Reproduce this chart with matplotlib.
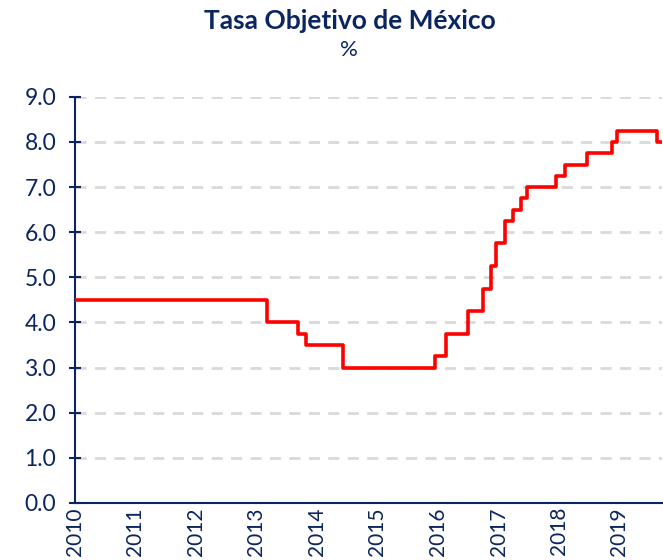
import matplotlib
matplotlib.use("Agg")
import matplotlib.pyplot as plt
import matplotlib.dates as mdates
import pandas as pd

# Banxico target rate, step changes
fechas = ["2010-01-01", "2013-03-08", "2013-09-06", "2013-10-25", "2014-06-06",
          "2015-12-17", "2016-02-17", "2016-06-30", "2016-09-29", "2016-11-17",
          "2016-12-15", "2017-02-09", "2017-03-30", "2017-05-18", "2017-06-22",
          "2017-12-14", "2018-02-08", "2018-06-21", "2018-11-15", "2018-12-20",
          "2019-08-15", "2019-09-15"]
tasa = [4.5, 4.0, 3.75, 3.5, 3.0,
        3.25, 3.75, 4.25, 4.75, 5.25,
        5.75, 6.25, 6.5, 6.75, 7.0,
        7.25, 7.5, 7.75, 8.0, 8.25,
        8.0, 8.0]
anios = list(range(2010, 2020))
y_ticks = [0, 1, 2, 3, 4, 5, 6, 7, 8, 9]

navy = "#0b2560"
plt.rcParams["font.family"] = ["Lato", "DejaVu Sans"]

fig = plt.figure(figsize=(6.63, 5.6), dpi=100)
ax = fig.add_axes([0.113, 0.102, 0.885, 0.725])

x = pd.to_datetime(fechas)
ax.plot(x, tasa, drawstyle="steps-post", color="#ff0000", linewidth=2.6, zorder=3)

ax.set_ylim(0, 9)
ax.set_xlim(pd.Timestamp("2010-01-01"), pd.Timestamp("2019-09-13"))
ax.set_yticks(y_ticks)
ax.set_yticklabels(["%.1f" % v for v in y_ticks])
ax.set_xticks([pd.Timestamp("%d-01-01" % a) for a in anios])
ax.xaxis.set_major_formatter(mdates.DateFormatter("%Y"))
for lbl in ax.get_xticklabels():
    lbl.set_rotation(90)

ax.grid(axis="y", color="#d9d9d9", linestyle=(0, (4, 3)), linewidth=2)
ax.set_axisbelow(True)
for s in ["top", "right"]:
    ax.spines[s].set_visible(False)
for s in ["left", "bottom"]:
    ax.spines[s].set_color(navy)
    ax.spines[s].set_linewidth(1.5)

ax.tick_params(axis="y", direction="inout", length=9, width=1.5, color=navy,
               labelcolor=navy, labelsize=16.5, pad=9)
ax.tick_params(axis="x", length=0, labelcolor=navy, labelsize=15, pad=3)

fig.text(0.527, 0.962, "Tasa Objetivo de México", ha="center", va="center",
         fontsize=19, fontweight="bold", color=navy)
fig.text(0.527, 0.91, "%", ha="center", va="center", fontsize=16, color=navy)

fig.savefig("out.png", dpi=100)
